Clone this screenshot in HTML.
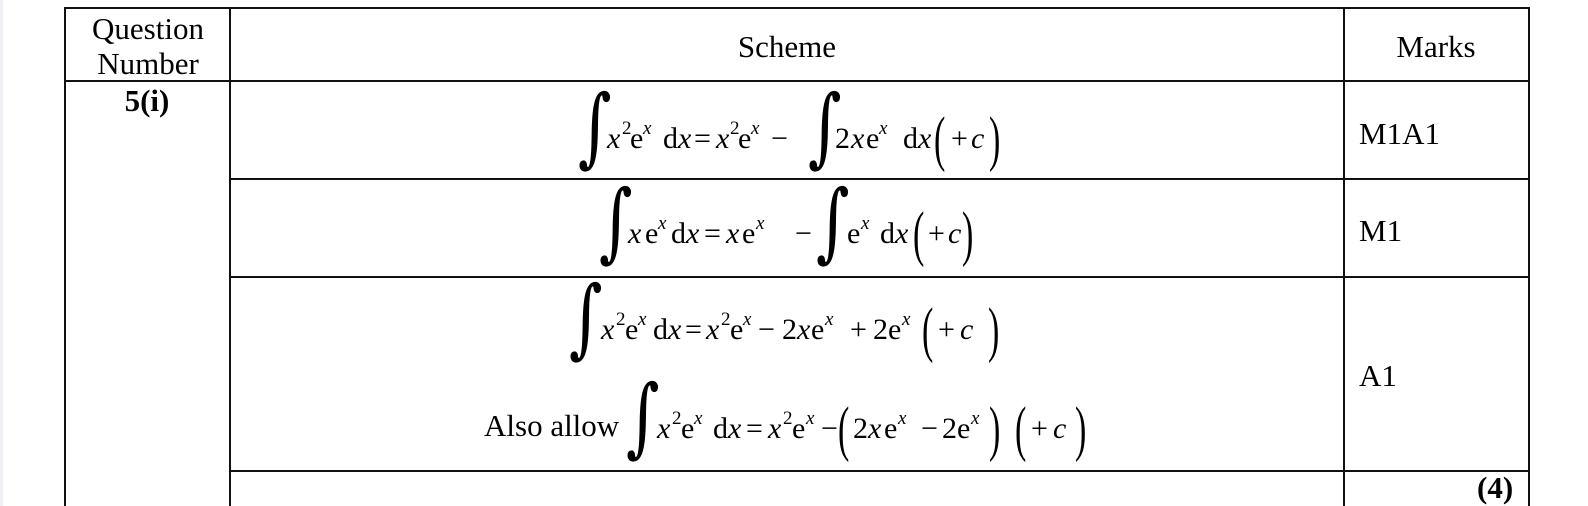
<!DOCTYPE html>
<html>
<head>
<meta charset="utf-8">
<style>
  html, body { margin:0; padding:0; background:#fff; }
  body { width:1588px; height:506px; overflow:hidden; }
  svg { display:block; }
  .t { font-family:"Liberation Serif", "DejaVu Serif", serif; font-size:31px; fill:#000; }
  .m { font-family:"Liberation Serif", "DejaVu Serif", serif; font-size:30px; fill:#000; }
  .i { font-style:italic; }
  .s { font-size:19px; }
  .b { font-weight:bold; }
  .int { font-family:"DejaVu Serif", "Liberation Serif", serif; font-size:86px; fill:#000; }
  .p { font-family:"Liberation Serif", serif; font-size:34px; fill:#000; }
</style>
</head>
<body>
<svg width="1588" height="506" viewBox="0 0 1588 506" xmlns="http://www.w3.org/2000/svg">
  <rect x="0" y="0" width="1588" height="506" fill="#ffffff"/>
  <rect x="0" y="0" width="3" height="506" fill="#eef0f6"/>

  <!-- table lines -->
  <g stroke="#111" stroke-width="2" shape-rendering="crispEdges">
    <line x1="64" y1="8" x2="1530" y2="8"/>
    <line x1="65" y1="7" x2="65" y2="506"/>
    <line x1="230" y1="7" x2="230" y2="506"/>
    <line x1="1344" y1="7" x2="1344" y2="506"/>
    <line x1="1529" y1="7" x2="1529" y2="506"/>
    <line x1="64" y1="81" x2="1530" y2="81"/>
    <line x1="230" y1="179" x2="1530" y2="179"/>
    <line x1="230" y1="277" x2="1530" y2="277"/>
    <line x1="230" y1="471" x2="1530" y2="471"/>
  </g>

  <!-- header -->
  <text class="t" x="148" y="39" text-anchor="middle">Question</text>
  <text class="t" x="148" y="74" text-anchor="middle">Number</text>
  <text class="t" x="787" y="57" text-anchor="middle">Scheme</text>
  <text class="t" x="1436" y="57" text-anchor="middle">Marks</text>

  <text class="t b" x="147" y="111" text-anchor="middle">5(i)</text>

  <!-- marks -->
  <text class="t" x="1359" y="144">M1A1</text>
  <text class="t" x="1359" y="241">M1</text>
  <text class="t" x="1359" y="386">A1</text>
  <text class="t b" x="1477" y="498">(4)</text>

  <!-- ROW 1 : baseline 148 -->
  <g transform="translate(578,156) scale(0.75,1)"><text class="int" x="0" y="0">∫</text></g>
  <text class="m i" x="607" y="148">x</text>
  <text class="m s" x="622" y="134">2</text>
  <text class="m" x="630" y="148">e</text>
  <text class="m s i" x="643" y="134">x</text>
  <text class="m" x="663" y="148">d</text>
  <text class="m i" x="678" y="148">x</text>
  <text class="m" x="694" y="148">=</text>
  <text class="m i" x="716" y="148">x</text>
  <text class="m s" x="730" y="134">2</text>
  <text class="m" x="738" y="148">e</text>
  <text class="m s i" x="751" y="134">x</text>
  <text class="m" x="771" y="148">−</text>
  <g transform="translate(808,156) scale(0.75,1)"><text class="int" x="0" y="0">∫</text></g>
  <text class="m" x="835" y="148">2</text>
  <text class="m i" x="851" y="148">x</text>
  <text class="m" x="866" y="148">e</text>
  <text class="m s i" x="879" y="134">x</text>
  <text class="m" x="903" y="148">d</text>
  <text class="m i" x="918" y="148">x</text>
  <g transform="translate(934,159) scale(1,1.8)"><text class="p" x="0" y="0">(</text></g>
  <text class="m" x="951" y="148">+</text>
  <text class="m i" x="971" y="148">c</text>
  <g transform="translate(989,159) scale(1,1.8)"><text class="p" x="0" y="0">)</text></g>

  <!-- ROW 2 : baseline 243 -->
  <g transform="translate(599,251) scale(0.75,1)"><text class="int" x="0" y="0">∫</text></g>
  <text class="m i" x="628" y="243">x</text>
  <text class="m" x="645" y="243">e</text>
  <text class="m s i" x="658" y="229">x</text>
  <text class="m" x="671" y="243">d</text>
  <text class="m i" x="686" y="243">x</text>
  <text class="m" x="704" y="243">=</text>
  <text class="m i" x="726" y="243">x</text>
  <text class="m" x="742" y="243">e</text>
  <text class="m s i" x="756" y="229">x</text>
  <text class="m" x="795" y="243">−</text>
  <g transform="translate(816,251) scale(0.75,1)"><text class="int" x="0" y="0">∫</text></g>
  <text class="m" x="847" y="243">e</text>
  <text class="m s i" x="861" y="229">x</text>
  <text class="m" x="880" y="243">d</text>
  <text class="m i" x="895" y="243">x</text>
  <g transform="translate(913,254) scale(1,1.8)"><text class="p" x="0" y="0">(</text></g>
  <text class="m" x="928" y="243">+</text>
  <text class="m i" x="948" y="243">c</text>
  <g transform="translate(962,254) scale(1,1.8)"><text class="p" x="0" y="0">)</text></g>

  <!-- ROW 3 : baseline 339 -->
  <g transform="translate(569,347) scale(0.75,1)"><text class="int" x="0" y="0">∫</text></g>
  <text class="m i" x="601" y="339">x</text>
  <text class="m s" x="616" y="325">2</text>
  <text class="m" x="625" y="339">e</text>
  <text class="m s i" x="638" y="325">x</text>
  <text class="m" x="653" y="339">d</text>
  <text class="m i" x="668" y="339">x</text>
  <text class="m" x="685" y="339">=</text>
  <text class="m i" x="706" y="339">x</text>
  <text class="m s" x="721" y="325">2</text>
  <text class="m" x="730" y="339">e</text>
  <text class="m s i" x="743" y="325">x</text>
  <text class="m" x="758" y="339">−</text>
  <text class="m" x="782" y="339">2</text>
  <text class="m i" x="797" y="339">x</text>
  <text class="m" x="811" y="339">e</text>
  <text class="m s i" x="825" y="325">x</text>
  <text class="m" x="850" y="339">+</text>
  <text class="m" x="873" y="339">2</text>
  <text class="m" x="888" y="339">e</text>
  <text class="m s i" x="902" y="325">x</text>
  <g transform="translate(922,350) scale(1,1.8)"><text class="p" x="0" y="0">(</text></g>
  <text class="m" x="938" y="339">+</text>
  <text class="m i" x="960" y="339">c</text>
  <g transform="translate(988,350) scale(1,1.8)"><text class="p" x="0" y="0">)</text></g>

  <!-- ROW 4 : baseline 438 -->
  <text class="t" x="484" y="436">Also allow</text>
  <g transform="translate(626,446) scale(0.75,1)"><text class="int" x="0" y="0">∫</text></g>
  <text class="m i" x="657" y="438">x</text>
  <text class="m s" x="672" y="424">2</text>
  <text class="m" x="681" y="438">e</text>
  <text class="m s i" x="694" y="424">x</text>
  <text class="m" x="713" y="438">d</text>
  <text class="m i" x="728" y="438">x</text>
  <text class="m" x="746" y="438">=</text>
  <text class="m i" x="768" y="438">x</text>
  <text class="m s" x="783" y="424">2</text>
  <text class="m" x="792" y="438">e</text>
  <text class="m s i" x="806" y="424">x</text>
  <text class="m" x="821" y="438">−</text>
  <g transform="translate(838,449) scale(1,1.8)"><text class="p" x="0" y="0">(</text></g>
  <text class="m" x="853" y="438">2</text>
  <text class="m i" x="868" y="438">x</text>
  <text class="m" x="884" y="438">e</text>
  <text class="m s i" x="898" y="424">x</text>
  <text class="m" x="921" y="438">−</text>
  <text class="m" x="942" y="438">2</text>
  <text class="m" x="957" y="438">e</text>
  <text class="m s i" x="971" y="424">x</text>
  <g transform="translate(989,449) scale(1,1.8)"><text class="p" x="0" y="0">)</text></g>
  <g transform="translate(1015,449) scale(1,1.8)"><text class="p" x="0" y="0">(</text></g>
  <text class="m" x="1031" y="438">+</text>
  <text class="m i" x="1053" y="438">c</text>
  <g transform="translate(1075,449) scale(1,1.8)"><text class="p" x="0" y="0">)</text></g>
</svg>
</body>
</html>
